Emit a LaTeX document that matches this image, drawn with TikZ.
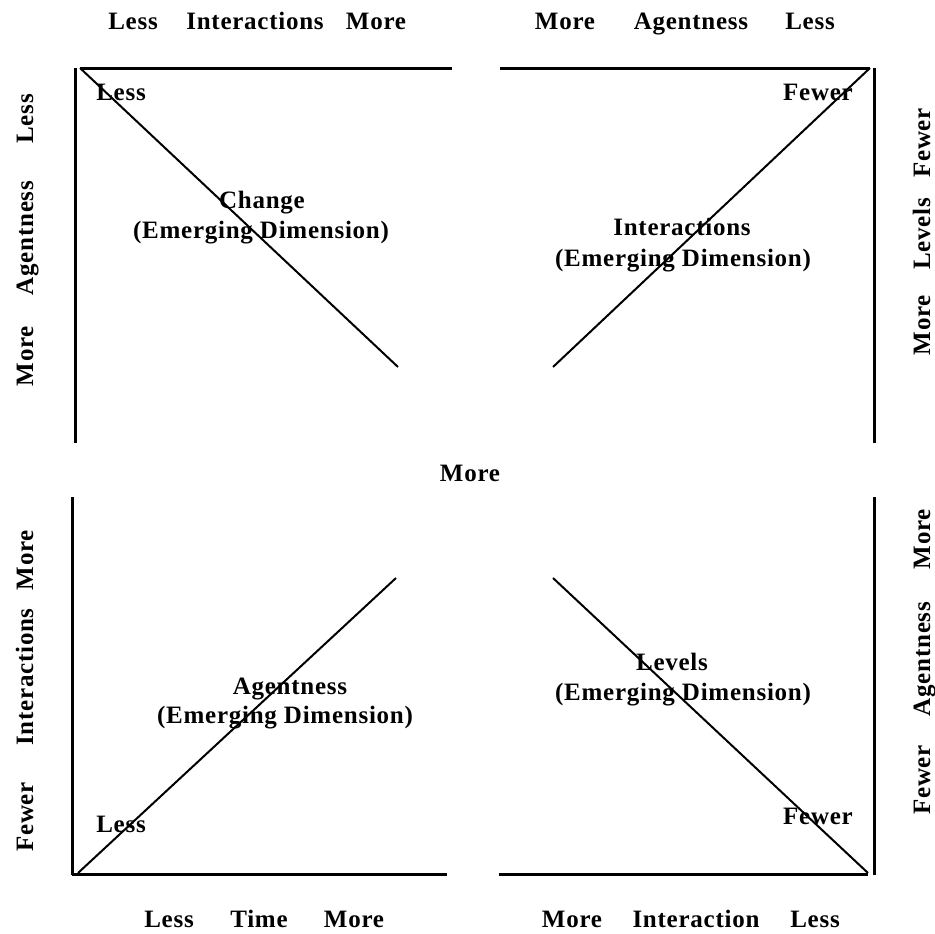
\documentclass[tikz,border=0pt]{standalone}
\usepackage{fontspec}
\setmainfont[LetterSpace=3]{Liberation Serif}
\begin{document}
\begin{tikzpicture}[x=1bp,y=-1bp,
  lbl/.style={font=\bfseries\fontsize{25bp}{30bp}\selectfont, inner sep=0pt, anchor=base},
  vlbl/.style={lbl, rotate=90},
  frame/.style={line width=3bp},
  diag/.style={line width=2bp}]
\useasboundingbox (0,0) rectangle (935,934);
% --- frame corners
\coordinate (tlA) at (80,68);  \coordinate (tlB) at (452,68);
\coordinate (tlV1) at (75,68); \coordinate (tlV2) at (75,443);
\coordinate (tlD) at (398,367);
\coordinate (trA) at (500,68); \coordinate (trB) at (870,68);
\coordinate (trV1) at (874,68); \coordinate (trV2) at (874,443);
\coordinate (trD) at (553,367);
\coordinate (blV1) at (72,497); \coordinate (blV2) at (72,875);
\coordinate (blA) at (72,874); \coordinate (blB) at (447,874);
\coordinate (blC) at (78,873); \coordinate (blD) at (396,578);
\coordinate (brA) at (499,874); \coordinate (brB) at (868,874);
\coordinate (brV1) at (874,497); \coordinate (brV2) at (874,875);
\coordinate (brC) at (868,873); \coordinate (brD) at (553,578);
% --- lines
\draw[frame] (tlA) -- (tlB);
\draw[frame] (tlV1) -- (tlV2);
\draw[diag] (tlA) -- (tlD);
\draw[frame] (trA) -- (trB);
\draw[frame] (trV1) -- (trV2);
\draw[diag] (trB) -- (trD);
\draw[frame] (blV1) -- (blV2);
\draw[frame] (blA) -- (blB);
\draw[diag] (blC) -- (blD);
\draw[frame] (brA) -- (brB);
\draw[frame] (brV1) -- (brV2);
\draw[diag] (brC) -- (brD);
% --- top labels
\node[lbl] (t1) at (133,29) {Less};
\node[lbl] (t2) at (255,29) {Interactions};
\node[lbl] (t3) at (376,29) {More};
\node[lbl] (t4) at (565,29) {More};
\node[lbl] (t5) at (691,29) {Agentness};
\node[lbl] (t6) at (810,29) {Less};
% --- bottom labels
\node[lbl] (b1) at (169,927) {Less};
\node[lbl] (b2) at (259,927) {Time};
\node[lbl] (b3) at (354,927) {More};
\node[lbl] (b4) at (572,927) {More};
\node[lbl] (b5) at (696,927) {Interaction};
\node[lbl] (b6) at (815,927) {Less};
% --- centre
\node[lbl] (c) at (470,481) {More};
% --- left side
\node[vlbl] (l1) at (33,119) {Less};
\node[vlbl] (l2) at (33,238) {Agentness};
\node[vlbl] (l3) at (33,356) {More};
\node[vlbl] (l4) at (33,560) {More};
\node[vlbl] (l5) at (33,677) {Interactions};
\node[vlbl] (l6) at (33,817) {Fewer};
% --- right side
\node[vlbl] (r1) at (930,143) {Fewer};
\node[vlbl] (r2) at (930,234) {Levels};
\node[vlbl] (r3) at (930,325) {More};
\node[vlbl] (r4) at (930,539) {More};
\node[vlbl] (r5) at (930,659) {Agentness};
\node[vlbl] (r6) at (930,780) {Fewer};
% --- corner labels
\node[lbl] (k1) at (121,100) {Less};
\node[lbl] (k2) at (818,100) {Fewer};
\node[lbl] (k3) at (121,832) {Less};
\node[lbl] (k4) at (818,824) {Fewer};
% --- emerging dimensions
\node[lbl] (e1a) at (262,208) {Change};
\node[lbl] (e1b) at (261,238) {(Emerging Dimension)};
\node[lbl] (e2a) at (682,235) {Interactions};
\node[lbl] (e2b) at (683,266) {(Emerging Dimension)};
\node[lbl] (e3a) at (290,694) {Agentness};
\node[lbl] (e3b) at (285,723) {(Emerging Dimension)};
\node[lbl] (e4a) at (672,670) {Levels};
\node[lbl] (e4b) at (683,700) {(Emerging Dimension)};
\end{tikzpicture}
\end{document}
